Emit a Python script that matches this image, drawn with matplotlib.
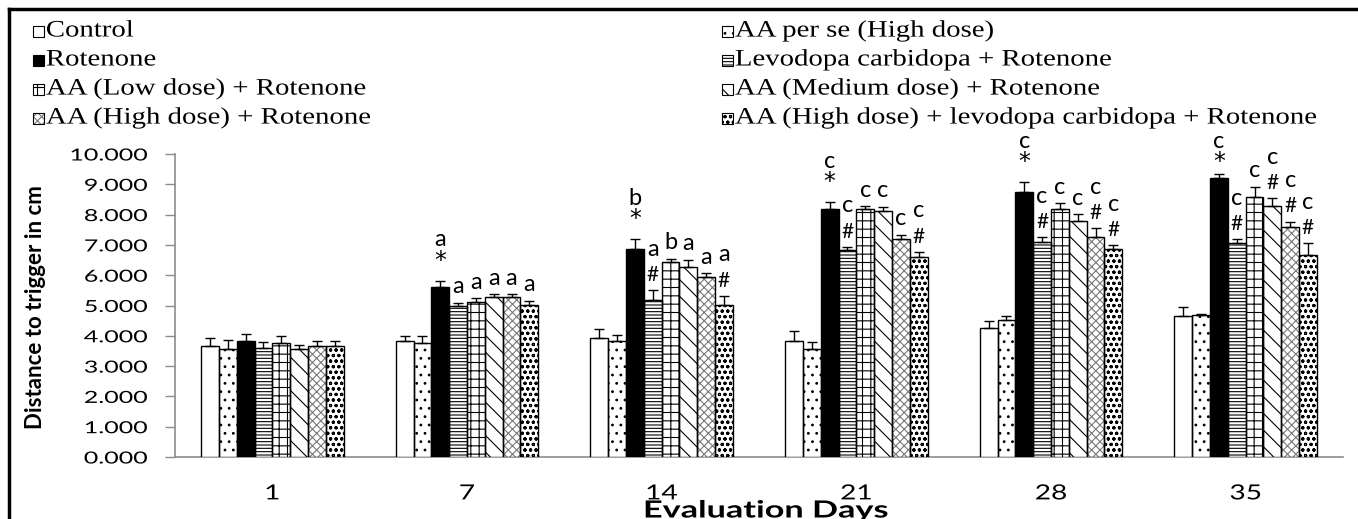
import matplotlib
matplotlib.use("Agg")
import matplotlib.pyplot as plt
import numpy as np
from matplotlib.patheffects import AbstractPathEffect
from matplotlib.transforms import Affine2D
from matplotlib.patches import Rectangle
from matplotlib.lines import Line2D

# ---------------- data ----------------
days = ["1", "7", "14", "21", "28", "35"]
series_names = [
    "Control",
    "AA per se (High dose)",
    "Rotenone",
    "Levodopa carbidopa + Rotenone",
    "AA (Low dose) + Rotenone",
    "AA (Medium dose) + Rotenone",
    "AA (High dose) + Rotenone",
    "AA (High dose) + levodopa carbidopa + Rotenone",
]
control = [3.66, 3.84, 3.92, 3.84, 4.27, 4.65]
aa_per_se = [3.57, 3.75, 3.82, 3.57, 4.51, 4.69]
rotenone = [3.84, 5.60, 6.86, 8.18, 8.76, 9.20]
levodopa = [3.59, 4.98, 5.17, 6.84, 7.11, 7.07]
aa_low = [3.75, 5.10, 6.43, 8.18, 8.20, 8.59]
aa_med = [3.55, 5.27, 6.28, 8.13, 7.80, 8.28]
aa_high = [3.67, 5.27, 5.93, 7.18, 7.27, 7.60]
aa_high_ld = [3.67, 5.02, 5.02, 6.61, 6.86, 6.67]

control_err = [0.28, 0.15, 0.31, 0.32, 0.21, 0.30]
aa_per_se_err = [0.29, 0.25, 0.20, 0.23, 0.15, 0.02]
rotenone_err = [0.21, 0.22, 0.32, 0.22, 0.30, 0.15]
levodopa_err = [0.22, 0.11, 0.33, 0.10, 0.14, 0.11]
aa_low_err = [0.25, 0.14, 0.12, 0.09, 0.18, 0.33]
aa_med_err = [0.15, 0.10, 0.22, 0.12, 0.21, 0.26]
aa_high_err = [0.16, 0.10, 0.13, 0.15, 0.29, 0.17]
aa_high_ld_err = [0.16, 0.13, 0.30, 0.16, 0.13, 0.38]

# significance letters and symbols (per series, per day)
control_let = ["", "", "", "", "", ""]
aa_per_se_let = ["", "", "", "", "", ""]
rotenone_let = ["", "a", "b", "c", "c", "c"]
levodopa_let = ["", "a", "a", "c", "c", "c"]
aa_low_let = ["", "a", "b", "c", "c", "c"]
aa_med_let = ["", "a", "a", "c", "c", "c"]
aa_high_let = ["", "a", "a", "c", "c", "c"]
aa_high_ld_let = ["", "a", "a", "c", "c", "c"]

control_sym = ["", "", "", "", "", ""]
aa_per_se_sym = ["", "", "", "", "", ""]
rotenone_sym = ["", "*", "*", "*", "*", "*"]
levodopa_sym = ["", "", "#", "#", "#", "#"]
aa_low_sym = ["", "", "", "", "", ""]
aa_med_sym = ["", "", "", "", "", "#"]
aa_high_sym = ["", "", "", "", "#", "#"]
aa_high_ld_sym = ["", "", "#", "#", "#", "#"]

y_ticks = [0, 1, 2, 3, 4, 5, 6, 7, 8, 9, 10]
y_label = "Distance to trigger in cm"
x_label = "Evaluation Days"

values = [control, aa_per_se, rotenone, levodopa, aa_low, aa_med, aa_high, aa_high_ld]
errors = [control_err, aa_per_se_err, rotenone_err, levodopa_err, aa_low_err,
          aa_med_err, aa_high_err, aa_high_ld_err]
letters = [control_let, aa_per_se_let, rotenone_let, levodopa_let, aa_low_let,
           aa_med_let, aa_high_let, aa_high_ld_let]
symbols = [control_sym, aa_per_se_sym, rotenone_sym, levodopa_sym, aa_low_sym,
           aa_med_sym, aa_high_sym, aa_high_ld_sym]

# ---------------- styles ----------------
# (facecolor, hatch, hatch colour)
styles = [
    ("white", None, "black"),
    ("white", "..", "black"),
    ("black", None, "black"),
    ("white", "-----", "black"),
    ("white", "++", "black"),
    ("white", "\\\\", "black"),
    ("white", "xxxx", "#7a7a7a"),
    ("white", "ooo", "black"),
]


class HStretch(AbstractPathEffect):
    """Stretch glyph paths horizontally in display space."""

    def __init__(self, sx, anchor="left"):
        super().__init__()
        self.sx = sx
        self.anchor = anchor

    def draw_path(self, renderer, gc, tpath, affine, rgbFace=None):
        ext = tpath.get_extents(affine)
        if self.anchor == "left":
            cx = ext.x0
        elif self.anchor == "right":
            cx = ext.x1
        else:
            cx = 0.5 * (ext.x0 + ext.x1)
        t = affine + Affine2D().translate(-cx, 0).scale(self.sx, 1).translate(cx, 0)
        renderer.draw_path(gc, tpath, t, rgbFace)


W, H = 1358, 519
DPI = 100
plt.rcParams["hatch.linewidth"] = 0.8
fig = plt.figure(figsize=(W / DPI, H / DPI), dpi=DPI)
fig.patch.set_facecolor("white")


def fx(px):
    return px / W


def fy(py):
    return 1 - py / H


ax_left, ax_right, ax_top, ax_bot = 175, 1343, 154, 457
ax = fig.add_axes([fx(ax_left), fy(ax_bot), fx(ax_right - ax_left), (ax_bot - ax_top) / H])
ax.set_facecolor("none")

n_series = len(values)
x = np.arange(len(days))
bar_w = 17.75 / 194.0
offsets = (np.arange(n_series) - (n_series - 1) / 2) * bar_w

# label placement (data units above the error-bar tip)
single_gap = 0.53
hash_gap = 0.50
star_gap = 0.66
stack_gap = 1.35
label_ceiling = 10.40

for i in range(n_series):
    fc, hatch, hc = styles[i]
    xs = x + offsets[i]
    if hatch is not None:
        ax.bar(xs, values[i], width=bar_w, color=fc, edgecolor=hc, hatch=hatch,
               linewidth=0, zorder=2)
    ax.bar(xs, values[i], width=bar_w, color="none" if hatch else fc,
           edgecolor="black", linewidth=1.0, zorder=3)
    ax.errorbar(xs, values[i], yerr=[np.zeros(len(days)), errors[i]], fmt="none",
                ecolor="black", elinewidth=1.0, capsize=3.6, capthick=1.0, zorder=4)
    for j in range(len(days)):
        top = values[i][j] + errors[i][j]
        sym = symbols[i][j]
        let = letters[i][j]
        if sym:
            ly = min(top + stack_gap, label_ceiling)
            sy = min(top + (star_gap if sym == "*" else hash_gap), ly - 0.66)
            ax.text(xs[j], sy, sym, ha="center", va="center",
                    fontsize=17 if sym == "*" else 15,
                    family="DejaVu Sans" if sym == "*" else "Lato", zorder=5, clip_on=False)
            if let:
                ax.text(xs[j], ly, let, ha="center", va="center", fontsize=17,
                        family="Lato", zorder=5, clip_on=False)
        elif let:
            ax.text(xs[j], top + single_gap, let, ha="center", va="center", fontsize=17,
                    family="Lato", zorder=5, clip_on=False)

ax.set_xlim(-0.5, len(days) - 0.5)
ax.set_ylim(0, 10)
ax.set_yticks(y_ticks)
ax.set_yticklabels([f"{v:.3f}" for v in y_ticks], family="Lato", fontsize=12)
ax.set_xticks(x)
ax.set_xticklabels(days, family="Lato", fontsize=15)
ax.tick_params(axis="y", length=7, width=1, color="#8c8c8c", pad=13)
ax.tick_params(axis="x", length=0, pad=19)
for s in ["top", "right"]:
    ax.spines[s].set_visible(False)
for s in ["left", "bottom"]:
    ax.spines[s].set_color("#8c8c8c")
    ax.spines[s].set_linewidth(1.2)
    ax.spines[s].set_zorder(1)

for t in ax.get_yticklabels():
    t.set_path_effects([HStretch(1.5, "right")])
for t in ax.get_xticklabels():
    t.set_path_effects([HStretch(1.35, "center")])

fig.text(fx(36), fy(307), y_label, rotation=90, ha="center", va="center",
         family="Lato", fontweight="bold", fontsize=16)
xl = fig.text(fx(766), fy(510), x_label, ha="center", va="center",
              family="Lato", fontweight="bold", fontsize=17)
xl.set_path_effects([HStretch(1.45, "center")])

# ---------------- legend (manual, two columns) ----------------
col_x = [33, 722]
row_y = [31, 60, 89, 118]
sq = 11
for i, name in enumerate(series_names):
    col = i % 2
    row = i // 2
    fc, hatch, hc = styles[i]
    x0 = col_x[col]
    y0 = row_y[row]
    if hatch is not None:
        fig.patches.append(Rectangle((fx(x0), fy(y0 + sq / 2)), sq / W, sq / H,
                                     transform=fig.transFigure, facecolor=fc,
                                     edgecolor=hc, hatch=hatch, linewidth=0))
    fig.patches.append(Rectangle((fx(x0), fy(y0 + sq / 2)), sq / W, sq / H,
                                 transform=fig.transFigure,
                                 facecolor="none" if hatch else fc,
                                 edgecolor="black", linewidth=0.8))
    t = fig.text(fx(x0 + sq + 2), fy(y0), name, ha="left", va="center",
                 family="Liberation Serif", fontsize=17)
    t.set_path_effects([HStretch(1.22, "left")])

# outer frame (top and left only visible)
fig.add_artist(Line2D([fx(9), fx(9)], [fy(9), 0], transform=fig.transFigure,
                      color="black", linewidth=2.5))
fig.add_artist(Line2D([fx(9), 1], [fy(9), fy(9)], transform=fig.transFigure,
                      color="black", linewidth=2.5))

fig.savefig("out.png", dpi=DPI)
